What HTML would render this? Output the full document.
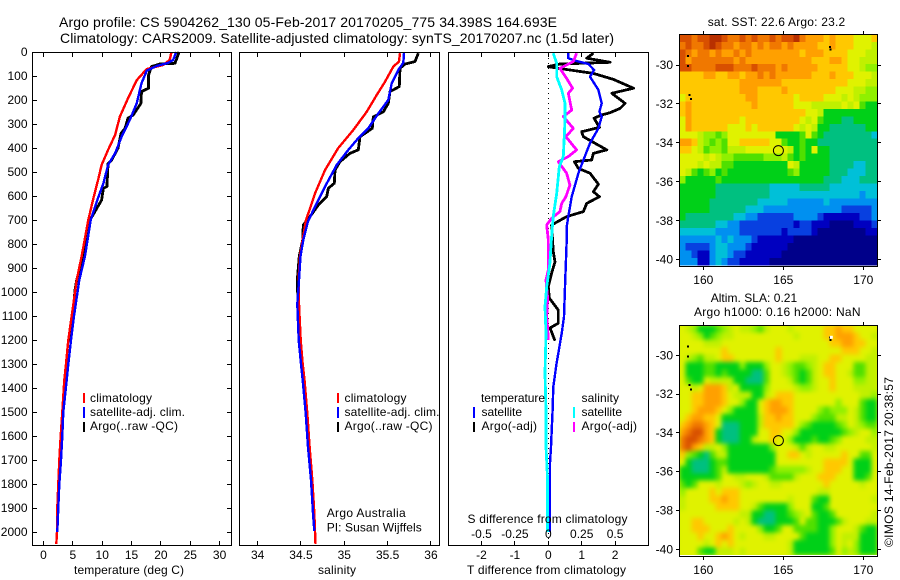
<!DOCTYPE html>
<html>
<head>
<meta charset="utf-8">
<title>Argo profile</title>
<style>
html,body{margin:0;padding:0;background:#fff;}
svg{display:block;}
text{font-family:"Liberation Sans",sans-serif;font-size:12px;fill:#000;}
.title{font-size:14px;}
.frame{fill:none;stroke:#000;stroke-width:1;shape-rendering:crispEdges;}
.tick{stroke:#000;stroke-width:1;shape-rendering:crispEdges;}
.series{fill:none;shape-rendering:crispEdges;stroke-linejoin:round;}
.cell{shape-rendering:crispEdges;}
.key{stroke-width:2;shape-rendering:crispEdges;}
</style>
</head>
<body>
<svg id="fig" width="900" height="580" viewBox="0 0 900 580" xmlns="http://www.w3.org/2000/svg">
  <defs>
    <filter id="slaBlur" filterUnits="userSpaceOnUse" x="660" y="306" width="238" height="269" color-interpolation-filters="sRGB">
      <feGaussianBlur stdDeviation="2.4"/>
    </filter>
    <clipPath id="slaClip"><rect x="680" y="326" width="198" height="229"/></clipPath>
  </defs>
  <rect x="0" y="0" width="900" height="580" fill="#fff"/>
  <text class="title" x="59" y="27" textLength="498" lengthAdjust="spacing">Argo profile: CS 5904262_130 05-Feb-2017 20170205_775 34.398S 164.693E</text>
  <text class="title" x="60" y="43" textLength="554" lengthAdjust="spacing">Climatology: CARS2009. Satellite-adjusted climatology: synTS_20170207.nc (1.5d later)</text>

  <g id="marks">
    <g id="sstLayer"></g>
    <g clip-path="url(#slaClip)">
      <g id="slaLayer" filter="url(#slaBlur)">
        <rect x="665" y="311" width="228" height="259" fill="#d8f000"/>
      </g>
    </g>
  </g>

  <rect class="frame" x="32.5" y="52.5" width="199" height="493"/>
  <rect class="frame" x="239.5" y="52.5" width="200" height="493"/>
  <rect class="frame" x="448.5" y="52.5" width="200" height="493"/>
  <rect class="frame" x="679.5" y="34.5" width="198" height="232"/>
  <rect class="frame" x="679.5" y="325.5" width="198" height="231"/>

  <g id="ticks"></g>

  <text x="74" y="574" textLength="110" lengthAdjust="spacing">temperature (deg C)</text>
  <text x="318" y="574" textLength="38" lengthAdjust="spacing">salinity</text>
  <text x="467" y="574" textLength="159" lengthAdjust="spacing">T difference from climatology</text>
  <text x="467.5" y="523" textLength="160" lengthAdjust="spacing">S difference from climatology</text>

  <g>
    <line class="key" x1="84" x2="84" y1="393" y2="403" stroke="#ff0000"/>
    <line class="key" x1="84" x2="84" y1="407" y2="418" stroke="#0000ff"/>
    <line class="key" x1="84" x2="84" y1="422" y2="432" stroke="#000"/>
    <text x="90" y="402" textLength="62" lengthAdjust="spacing">climatology</text>
    <text x="90" y="416" textLength="95" lengthAdjust="spacing">satellite-adj. clim.</text>
    <text x="90" y="430" textLength="88" lengthAdjust="spacing">Argo(..raw -QC)</text>
  </g>
  <g>
    <line class="key" x1="338" x2="338" y1="393" y2="403" stroke="#ff0000"/>
    <line class="key" x1="338" x2="338" y1="407" y2="418" stroke="#0000ff"/>
    <line class="key" x1="338" x2="338" y1="422" y2="432" stroke="#000"/>
    <text x="344.5" y="402" textLength="62" lengthAdjust="spacing">climatology</text>
    <text x="344.5" y="416" textLength="95" lengthAdjust="spacing">satellite-adj. clim.</text>
    <text x="344.5" y="430" textLength="88" lengthAdjust="spacing">Argo(..raw -QC)</text>
  </g>
  <g>
    <text x="481" y="402" textLength="64" lengthAdjust="spacing">temperature</text>
    <text x="581.5" y="402" textLength="37.5" lengthAdjust="spacing">salinity</text>
    <line class="key" x1="474" x2="474" y1="407" y2="418" stroke="#0000ff"/>
    <line class="key" x1="474" x2="474" y1="422" y2="432" stroke="#000"/>
    <line class="key" x1="574" x2="574" y1="407" y2="418" stroke="#00ffff"/>
    <line class="key" x1="574" x2="574" y1="422" y2="432" stroke="#ff00ff"/>
    <text x="481.5" y="416" textLength="40.5" lengthAdjust="spacing">satellite</text>
    <text x="481.5" y="430" textLength="55.5" lengthAdjust="spacing">Argo(-adj)</text>
    <text x="581.5" y="416" textLength="40.5" lengthAdjust="spacing">satellite</text>
    <text x="581.5" y="430" textLength="55.5" lengthAdjust="spacing">Argo(-adj)</text>
  </g>

  <text x="326.7" y="517" textLength="79" lengthAdjust="spacing">Argo Australia</text>
  <text x="326.7" y="531.5" textLength="95" lengthAdjust="spacing">PI: Susan Wijffels</text>

  <text x="707.7" y="26" textLength="137.5" lengthAdjust="spacing">sat. SST: 22.6 Argo: 23.2</text>
  <text x="710.7" y="302" textLength="86.5" lengthAdjust="spacing">Altim. SLA: 0.21</text>
  <text x="694" y="316" textLength="166.5" lengthAdjust="spacing">Argo h1000: 0.16 h2000: NaN</text>
  <text transform="translate(893,547) rotate(-90)" x="0" y="0" textLength="170" lengthAdjust="spacing">©IMOS 14-Feb-2017 20:38:57</text>
</svg>

<script>
/* ---------- profile data ---------- */
const depthTicks = [0,100,200,300,400,500,600,700,800,900,1000,1100,1200,1300,1400,1500,1600,1700,1800,1900,2000];
const tempTicks = [0,5,10,15,20,25,30];
const salTicks = ['34','34.5','35','35.5','36'];
const tDiffTicks = ['-2','-1','0','1','2'];
const sDiffTicks = ['-0.5','-0.25','0','0.25','0.5'];

const climTempDepth = [0,33,54,71,117,193,270,346,408,471,533,609,700,850,950,1100,1200,1300,1367,1500,1600,1700,1800,1900,2000,2050];
const climTempValues = [21.8,21.5,20.4,17.6,15.9,14.4,13,12.2,11,9.9,9.3,8.5,7.63,6.5,5.66,4.8,4.22,3.83,3.54,3.2,2.93,2.7,2.52,2.35,2.3,2.18];
const satTempDepth = [0,33,46,58,78,130,213,283,353,422,471,547,608,700,850,950,1100,1200,1300,1367,1500,1600,1700,1800,1900,2000];
const satTempValues = [22.6,22.1,21.2,19.3,17.6,16.7,15.9,14.7,13.3,12.2,11,10.2,9.3,8.04,7.07,6.1,5.2,4.68,4.22,3.95,3.38,3.2,2.98,2.7,2.52,2.35];
const argoTempDepth = [0,47,50,61,96,151,165,214,262,276,318,339,401,450,464,561,568,617,700,850,950,992,1100,1207];
const argoTempValues = [23.1,22.4,19.8,18.4,17.9,17.9,16.7,16.6,15.3,14.4,13.9,13.2,12.7,11.6,11,10.8,10.2,9.9,7.92,6.73,5.66,5.37,4.97,4.51];

const climSalDepth = [5,40,61,124,179,249,325,400,492,589,658,700,850,950,1050,1200,1300,1367,1505,1645,1783,1921,2050];
const climSalValues = [35.643,35.631,35.565,35.47,35.374,35.259,35.104,34.931,34.777,34.662,34.598,34.558,34.489,34.471,34.477,34.497,34.52,34.541,34.573,34.6,34.631,34.654,34.668];
const satSalDepth = [5,45,75,131,200,256,318,359,408,471,561,644,707,783,850,950,1050,1200,1300,1367,1505,1645,1783,1921,1995];
const satSalValues = [35.689,35.681,35.623,35.547,35.508,35.392,35.277,35.162,35.046,34.912,34.777,34.662,34.58,34.527,34.495,34.477,34.458,34.474,34.5,34.52,34.555,34.581,34.616,34.639,34.654];
const argoSalDepth = [5,40,50,68,144,165,214,249,270,318,353,408,422,457,492,547,568,603,638,686,721,783,850,950,1050,1207];
const argoSalValues = [35.854,35.816,35.7,35.643,35.635,35.527,35.508,35.45,35.335,35.323,35.181,35.162,35.066,34.95,34.893,34.885,34.815,34.797,34.7,34.604,34.527,34.52,34.481,34.458,34.466,34.477];

const argoTDiffDepth = [5,26,43,50,61,68,89,114,151,172,214,235,253,262,276,314,332,353,408,422,450,457,485,505,551,582,603,631,665,686,721,833,874,922,978,1025,1075,1130,1150,1203];
const argoTDiffValues = [1.35,1.15,1.85,0.35,0,0.3,1.35,1.95,2.55,1.9,2.3,2.15,1.85,1.6,1.37,1.53,1,1.05,1.75,1.35,1.3,0.78,0.9,1.25,1.5,1.35,1.53,1.15,1.05,0.55,0.1,0.15,0.2,0.1,0,0.03,0.3,0.3,0.05,0.2];
const satTDiffDepth = [5,26,36,50,75,103,158,214,249,269,318,380,450,505,603,686,728,783,978,1103,1172,1297,1394,1492,1645,1713,1854,2000];
const satTDiffValues = [0.6,0.6,0.8,1.2,1.37,1.25,1.5,1.6,1.53,1.6,1.5,1.25,1.05,0.9,0.7,0.6,0.55,0.55,0.5,0.47,0.4,0.25,0.15,0.13,0.08,0.05,0.05,0.05];
const satSDiffDepth = [5,47,103,158,214,283,367,436,478,589,686,769,880,978,1061,1172,1339,1492,1645,1783,2000];
const satSDiffValues = [0.037,0.063,0.063,0.1,0.125,0.125,0.118,0.112,0.082,0.063,0.037,0.025,0.012,-0.012,-0.025,-0.017,-0.025,-0.017,-0.017,-0.005,-0.005];
const argoSDiffDepth = [5,40,68,110,151,172,242,269,318,353,408,436,457,505,554,603,631,665,693,721,783,839,908,950,1025,1103,1150,1200];
const argoSDiffValues = [0.212,0.187,0.087,0.137,0.182,0.15,0.175,0.112,0.187,0.132,0.212,0.15,0.075,0.137,0.162,0.132,0.1,0.087,0.025,-0.012,0,0,0,-0.017,-0.005,-0.012,-0.005,0];

/* ---------- map data ---------- */
const lonTicks = [160,165,170];
const latTicks = [-30,-32,-34,-36,-38,-40];
const argoLon = [164.693];
const argoLat = [-34.398];
const coastLon = [159.04,159.04,159.14,159.23,167.92,167.95];
const coastLat = [-29.54,-30.05,-31.54,-31.75,-29.08,-29.2];
const sstRows = [
"eedeeffedde deddedeefdc ccbcbbbaaab",
"deddefeddcd dcdcddcdccc cbbcbbbaaa9",
"edcddcdccdc dccccccccbc ccbbbbaaa99",
"ecdddddddcd ccccccccccc bbbccbaa999",
"eeddddeeedd dedddcdcccc cbbbbbaa988",
"bbbbccbbccb ccdcdcccccc bbbcbbbaaa9",
"bbbbbbbbbbc ccccccbbbbb bbbbbbaaa99",
"bbbbbbbbbbc ccbbbbcbbbb bbbbaaa9988",
"abbbbbbbbbb ccbbbbbbabb bbaaa9a9888",
"bcbbbbbbbbb bcbbbbbbaaa 99999a9a766",
"bcbbbbbbbbb bbbbbbbbbba a9666666666",
"acbbbbbbbba bbbbbbbbba9 a7666556666",
"acbbbbbbaaa babbbbbba9a 96655555566",
"aaa98878aaa aaaaa66667a 76555555554",
"ccb98787aab bbbbaa76676 65555555555",
"bba97887999 aaaaaaa9676 a6655555555",
"aaaa9a98877 77788897676 66655555555",
"aaa9a997766 6666666a966 66655554455",
"a9767867666 66666667866 66655544455",
"86666676666 66666666666 66555444555",
"66666655555 55554444455 55544444444",
"66666655555 55554444444 44444444344",
"66666555555 55444443333 33433333333",
"66666555555 44433333333 33333222223",
"65555555544 33222222333 32111111223",
"55555544332 22222222122 11100001112",
"44444433332 22222212222 10000000011",
"33333343433 32111111000 00000000000",
"32222344333 21111110000 00000000000",
"33211344322 11111100000 00000000000",
"33311343221 11110000000 00000000000"
];
const slaRows = [
"a98666789a9 9879aaa9aaa aabbcbbaaaa",
"aa9867899aa aaaaaaaa9aa aabbcccbaa9",
"aaaa999aaaa aaaaaaaaaaa aaabbccbbaa",
"aaaaaaabaaa aaaaabaaaaa aaaaabbbaa9",
"a98799abbaa aaaaabaaa99 9aabbaaaa99",
"a6667766668 6668aa98778 9abbaaa7799",
"a6667767666 6557aa98767 9abbaa97799",
"a766a999966 5557aaa9767 9aabaaa8899",
"aa9acccb9a6 6668aaaa988 9aabaaa9999",
"aabbcccba99 9669abbbaaa aaaaaaaa998",
"aabbcccbaa8 66abccbbaaa aaaa8aaa766",
"aabcccba866 66abcccbaaa a87888a9766",
"abccbba6666 669bbcbbaaa 877799a9766",
"bcddcba5556 669bbbbba87 666678a9877",
"cdeecb65556 66aabbaa866 66666789aa8",
"deedcb65556 69aabaa8666 76678aaaa99",
"decb99a8666 66668aaa979 aa99aaaaaa9",
"b8765799666 66666aabba9 aaaaabaa77a",
"a6555677666 66666aaaaaa aabbbba666a",
"66555679666 66667888889 aabbbaa666a",
"6666667aa99 aaa977779aa abbbaaa667a",
"767aaa9aaa9 89aa99aaaaa aabaaaaa9aa",
"8aaaababbba aaaaaaaaaaa a99aaaaaaaa",
"9aaaabbcbba aaaaaaa9aaa 766aaaaaaa9",
"9aaaaabbbba a9766668aaa 667aaaaaaaa",
"aaaaaaaaaa9 9665566789a 7667aaaaaa9",
"aabbaaaaa9a 965556667a7 766679aaa99",
"aabbbaaabaa aa8667aa777 7668aaa9766",
"aaabaabcba9 aaa99aaaa76 6668a999666",
"aaaa9ababaa aaaaaaa9666 6668a9a8666",
"aaa766999a9 aaaaaaa9666 6667a898666"
];
const colorRamp = ['#00008a','#0000c0','#0840e0','#0090f0','#00c0d8','#00c080','#00d018','#50e000','#90f000','#c0f000','#e0f200','#ffc800','#ffa000','#f07800','#d85000','#b83000'];

/* ---------- axis functions ---------- */
const SVGNS = 'http://www.w3.org/2000/svg';
const marks = document.getElementById('marks');
const ticks = document.getElementById('ticks');
function yDepth(d){ return 52 + 0.24 * d; }
function xTemp(t){ return 43.5 + 5.87 * t; }
function xSal(s){ return 344.3 + 86.65 * (s - 35); }
function xTDiff(t){ return 548.3 + 33.4 * t; }
function xSDiff(s){ return 548.3 + 133.6 * s; }
function xLon(lon){ return 703.3 + 16 * (lon - 160); }
function ySst(lat){ return 65 + 19.47 * (-30 - lat); }
function ySla(lat){ return 355.3 + 19.4 * (-30 - lat); }

function addSeries(depths, values, xFn, color, width, name){
  const el = document.createElementNS(SVGNS, 'polyline');
  el.setAttribute('class', 'series');
  el.setAttribute('points', depths.map(function(d, i){ return xFn(values[i]).toFixed(1) + ',' + yDepth(d).toFixed(1); }).join(' '));
  el.setAttribute('stroke', color);
  el.setAttribute('stroke-width', width);
  
  
  marks.appendChild(el);
}
function addTick(x1, y1, x2, y2, name){
  const el = document.createElementNS(SVGNS, 'line');
  el.setAttribute('class', 'tick');
  el.setAttribute('x1', x1);
  el.setAttribute('y1', y1);
  el.setAttribute('x2', x2);
  el.setAttribute('y2', y2);
  
  
  ticks.appendChild(el);
}
function addLabel(x, y, str, anchor, name){
  const el = document.createElementNS(SVGNS, 'text');
  el.setAttribute('x', x);
  el.setAttribute('y', y);
  el.setAttribute('text-anchor', anchor);
  
  
  el.textContent = str;
  ticks.appendChild(el);
}
function addHeat(rows, yFn, prefix, layer){
  const lonStart = 158.52, lonStep = 0.375, latStart = -28.43, latStep = 0.3825;
  const clean = rows.map(function(r){ return r.replace(/ /g, ''); });
  clean.forEach(function(row, r){
    const lat0 = latStart - latStep * r;
    const top = yFn(lat0);
    const bottom = yFn(lat0 - latStep);
    for (let c = 0; c < 33; c++){
      const v = parseInt(row[c] || row[row.length - 1], 16);
      const x0 = xLon(lonStart + lonStep * c);
      const x1 = xLon(lonStart + lonStep * (c + 1));
      const cell = document.createElementNS(SVGNS, 'rect');
      cell.setAttribute('class', 'cell');
      cell.setAttribute('x', x0.toFixed(2));
      cell.setAttribute('y', top.toFixed(2));
      cell.setAttribute('width', (x1 - x0).toFixed(2));
      cell.setAttribute('height', (bottom - top).toFixed(2));
      cell.setAttribute('fill', colorRamp[v]);
      
      
      layer.appendChild(cell);
    }
  });
}
function addMapOverlay(yFn, prefix){
  coastLon.forEach(function(lon, i){
    const dot = document.createElementNS(SVGNS, 'rect');
    dot.setAttribute('class', 'cell');
    dot.setAttribute('x', (xLon(lon) - 1).toFixed(1));
    dot.setAttribute('y', (yFn(coastLat[i]) - 1).toFixed(1));
    dot.setAttribute('width', 2);
    dot.setAttribute('height', 2);
    dot.setAttribute('fill', '#000');
    
    
    marks.appendChild(dot);
  });
  const ring = document.createElementNS(SVGNS, 'circle');
  ring.setAttribute('cx', xLon(argoLon[0]).toFixed(1));
  ring.setAttribute('cy', yFn(argoLat[0]).toFixed(1));
  ring.setAttribute('r', 5);
  ring.setAttribute('fill', 'none');
  ring.setAttribute('stroke', '#000');
  ring.setAttribute('stroke-width', 1);
  
  
  marks.appendChild(ring);
}

/* ---------- maps ---------- */
addHeat(sstRows, ySst, 'sst', document.getElementById('sstLayer'));
addMapOverlay(ySst, 'sst');
addHeat(slaRows, ySla, 'sla', document.getElementById('slaLayer'));
addMapOverlay(ySla, 'sla');

/* ---------- zero line ---------- */
const zeroLine = document.createElementNS(SVGNS, 'line');
zeroLine.setAttribute('x1', xTDiff(0).toFixed(1));
zeroLine.setAttribute('x2', xTDiff(0).toFixed(1));
zeroLine.setAttribute('y1', 53);
zeroLine.setAttribute('y2', 545);
zeroLine.setAttribute('stroke', '#000');
zeroLine.setAttribute('stroke-width', 1);
zeroLine.setAttribute('stroke-dasharray', '1 4');
zeroLine.setAttribute('shape-rendering', 'crispEdges');


marks.appendChild(zeroLine);

/* ---------- profile series ---------- */
addSeries(argoTempDepth, argoTempValues, xTemp, '#000', 2.8, 'argo-temperature-line');
addSeries(climTempDepth, climTempValues, xTemp, '#ff0000', 2.4, 'climatology-temperature-line');
addSeries(satTempDepth, satTempValues, xTemp, '#0000ff', 2.4, 'satellite-temperature-line');
addSeries(argoSalDepth, argoSalValues, xSal, '#000', 2.8, 'argo-salinity-line');
addSeries(climSalDepth, climSalValues, xSal, '#ff0000', 2.4, 'climatology-salinity-line');
addSeries(satSalDepth, satSalValues, xSal, '#0000ff', 2.4, 'satellite-salinity-line');
addSeries(argoTDiffDepth, argoTDiffValues, xTDiff, '#000', 2.8, 'argo-t-difference-line');
addSeries(satTDiffDepth, satTDiffValues, xTDiff, '#0000ff', 2.4, 'satellite-t-difference-line');
addSeries(argoSDiffDepth, argoSDiffValues, xSDiff, '#ff00ff', 2.8, 'argo-s-difference-line');
addSeries(satSDiffDepth, satSDiffValues, xSDiff, '#00ffff', 2.8, 'satellite-s-difference-line');

/* ---------- profile ticks ---------- */
depthTicks.forEach(function(d){
  const y = Math.floor(yDepth(d)) + 0.5;
  addTick(32.5, y, 37, y, 'depth-tick-left');
  addTick(231.5, y, 227, y, 'depth-tick-right');
  addLabel(27.5, yDepth(d) + 4, String(d), 'end', 'depth-tick-label');
});
tempTicks.forEach(function(t){
  const x = Math.floor(xTemp(t)) + 0.5;
  addTick(x, 52.5, x, 57, 'temperature-tick-top');
  addTick(x, 545.5, x, 541, 'temperature-tick-bottom');
  addLabel(xTemp(t), 559, String(t), 'middle', 'temperature-tick-label');
});
salTicks.forEach(function(s){
  const x = Math.floor(xSal(parseFloat(s))) + 0.5;
  addTick(x, 52.5, x, 57, 'salinity-tick-top');
  addTick(x, 545.5, x, 541, 'salinity-tick-bottom');
  addLabel(xSal(parseFloat(s)), 559, s, 'middle', 'salinity-tick-label');
});
tDiffTicks.forEach(function(t){
  const x = Math.floor(xTDiff(parseFloat(t))) + 0.5;
  addTick(x, 52.5, x, 57, 't-difference-tick-top');
  addTick(x, 545.5, x, 541, 't-difference-tick-bottom');
  addLabel(xTDiff(parseFloat(t)), 559, t, 'middle', 't-difference-tick-label');
});
sDiffTicks.forEach(function(s){
  addLabel(xSDiff(parseFloat(s)), 538, s, 'middle', 's-difference-tick-label');
});

/* ---------- map ticks ---------- */
function mapTicks(yFn, top, bottom, labelY, prefix){
  lonTicks.forEach(function(lon){
    const x = Math.floor(xLon(lon)) + 0.5;
    addTick(x, top, x, top - 3.5, prefix + '-lon-tick-top');
    addTick(x, bottom, x, bottom + 3.5, prefix + '-lon-tick-bottom');
    addLabel(xLon(lon), labelY, String(lon), 'middle', prefix + '-lon-tick-label');
  });
  latTicks.forEach(function(lat){
    const y = Math.floor(yFn(lat)) + 0.5;
    addTick(679.5, y, 676, y, prefix + '-lat-tick-left');
    addTick(877.5, y, 881, y, prefix + '-lat-tick-right');
    addLabel(673, yFn(lat) + 4, String(lat), 'end', prefix + '-lat-tick-label');
  });
}
mapTicks(ySst, 34.5, 266.5, 284, 'sst');
mapTicks(ySla, 325.5, 556.5, 574, 'sla');

/* ---------- missing-data speck on the SLA map ---------- */
const slaGapLon = [167.97];
const slaGapLat = [-29.1];
const gap = document.createElementNS(SVGNS, 'rect');
gap.setAttribute('x', (xLon(slaGapLon[0]) - 1).toFixed(1));
gap.setAttribute('y', (ySla(slaGapLat[0]) - 2).toFixed(1));
gap.setAttribute('width', 3);
gap.setAttribute('height', 3);
gap.setAttribute('fill', '#fff');


marks.appendChild(gap);
</script>
</body>
</html>
